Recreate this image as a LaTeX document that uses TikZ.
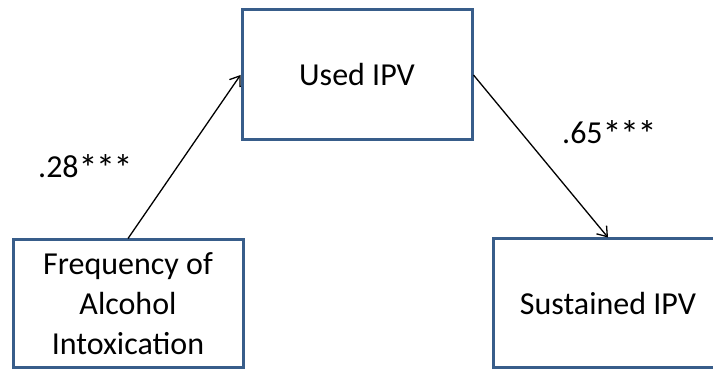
\documentclass[tikz,border=0pt]{standalone}
\usepackage{fontspec}
\setmainfont{Carlito}
\usetikzlibrary{arrows.meta}
\definecolor{boxblue}{HTML}{385D8A}
% significance stars, a little larger and lower than the font's own
\newcommand{\onestar}{\raisebox{-4pt}{\fontsize{38}{38}\selectfont *}}
\newcommand{\stars}{\onestar\kern-1.5pt\onestar\kern-1.5pt\onestar}
\begin{document}
\begin{tikzpicture}[x=1pt,y=1pt,
  varbox/.style={draw=boxblue,line width=3pt,fill=white,inner sep=0pt,
    minimum width=230pt,align=center,
    font=\fontsize{32}{40}\selectfont},
  path/.style={line width=1.3pt,-{Straight Barb[length=9pt,width=13pt,line width=1.3pt]}},
  coef/.style={anchor=base west,inner sep=0pt,font=\fontsize{32}{40}\selectfont}]
  \useasboundingbox (0,0) rectangle (713,371);
  \begin{scope}
    \clip (0,0) rectangle (713,371);
    % mediator, predictor and outcome
    \node[varbox,minimum height=130pt] (used) at (357,296) {Used IPV};
    \node[varbox,minimum height=128pt] (freq) at (128,67)
      {Frequency of\\Alcohol\\Intoxication};
    \node[varbox,minimum height=129pt] (sust) at (608,67.5) {Sustained IPV};
  \end{scope}
  % path coefficients
  \draw[path] (freq.north) -- (used.west);
  \draw[path] (used.east) -- (sust.north);
  \node[coef] (a) at (38,193) {.28\stars};
  \node[coef] (b) at (562,227) {.65\stars};
\end{tikzpicture}
\end{document}
